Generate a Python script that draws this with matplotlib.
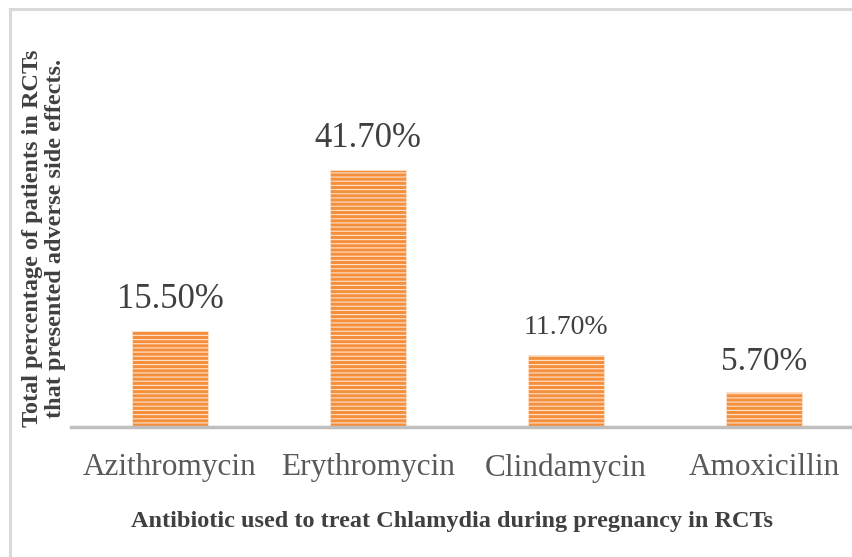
import matplotlib
matplotlib.use("Agg")
import matplotlib.pyplot as plt
from matplotlib.lines import Line2D

categories = ["Azithromycin", "Erythromycin", "Clindamycin", "Amoxicillin"]
values = [15.5, 41.7, 11.7, 5.7]
value_labels = ["15.50%", "41.70%", "11.70%", "5.70%"]
x_label = "Antibiotic used to treat Chlamydia during pregnancy in RCTs"
y_label = "Total percentage of patients in RCTs\nthat presented adverse side effects."

plt.rcParams['font.family'] = ['Liberation Serif', 'DejaVu Serif']
plt.rcParams['hatch.linewidth'] = 0.8

W, H = 853, 557
fig = plt.figure(figsize=(W / 100, H / 100), dpi=100)

# axes: left 71px, baseline 427px, top 30px
ax = fig.add_axes([71 / W, (H - 427) / H, (W - 71) / W, (427 - 30) / H])

xs = list(range(len(categories)))
bars = ax.bar(xs, values, width=0.38, color='#F58F3C', edgecolor='#FDE3CF',
              hatch='----', linewidth=0.6, zorder=2)

label_sizes = [25, 25, 20, 24]
for b, lab, fs in zip(bars, value_labels, label_sizes):
    ax.annotate(lab, (b.get_x() + b.get_width() / 2, b.get_height()),
                xytext=(0, 11), textcoords='offset points', ha='center', va='bottom',
                fontsize=fs, color='#404040')

ax.set_xlim(-0.5, 3.449)
ax.set_ylim(0, 397 / (257 / 41.7))
ax.set_xticks(xs)
ax.set_xticklabels(categories, fontsize=22.5, color='#595959')
ax.tick_params(axis='x', length=0, pad=19)
ax.set_yticks([])
for s in ['top', 'right', 'left']:
    ax.spines[s].set_visible(False)
ax.spines['bottom'].set_color('#BFBFBF')
ax.spines['bottom'].set_linewidth(2.5)

fig.text(452 / W, 1 - 521 / H, x_label, ha='center', va='center',
         fontsize=17.5, fontweight='bold', color='#404040')
fig.text(44 / W, 1 - 238 / H, y_label, ha='center', va='center', rotation=90,
         fontsize=17.5, fontweight='bold', color='#404040', linespacing=1.15)

# outer frame (left and top visible)
fig.add_artist(Line2D([9.5 / W, 9.5 / W], [0, 1 - 8.5 / H], color='#D9D9D9', lw=2.2,
                      transform=fig.transFigure))
fig.add_artist(Line2D([9.5 / W, 1], [1 - 8.5 / H, 1 - 8.5 / H], color='#D9D9D9', lw=2.2,
                      transform=fig.transFigure))

fig.savefig("out.png", dpi=100)
